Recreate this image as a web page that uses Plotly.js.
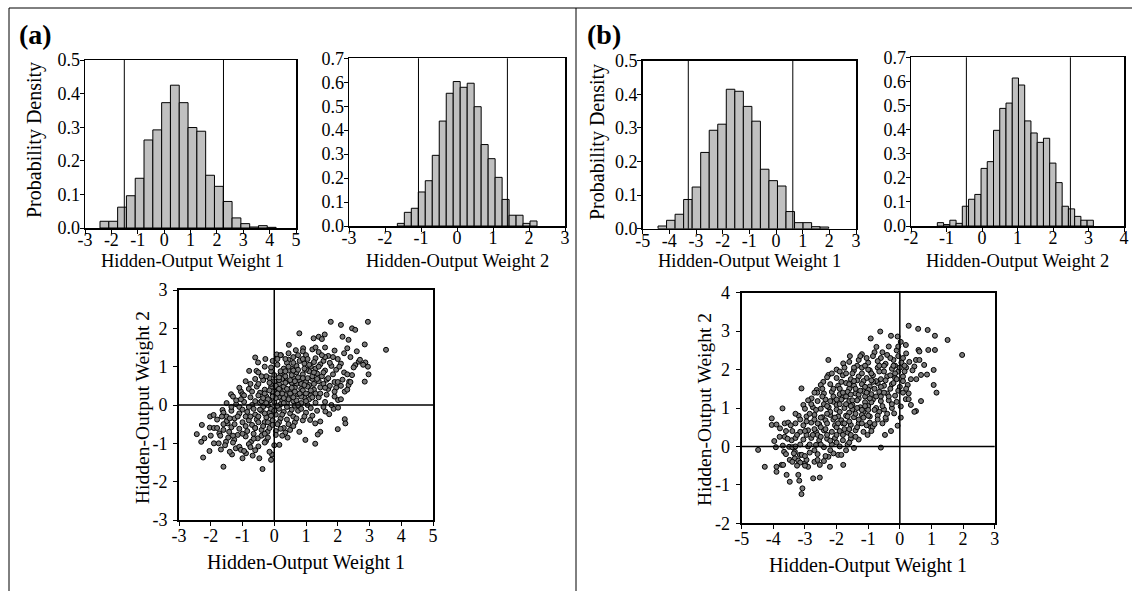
<!DOCTYPE html>
<html>
<head>
<meta charset="utf-8">
<script src="https://cdn.plot.ly/plotly-3.0.1.min.js"></script>
<style>html,body{margin:0;padding:0;background:#fff;}#chart{width:1132px;height:591px;}</style>
</head>
<body>
<div id="chart"></div>
<script>
// ---------------- DATA ----------------
// Panel (a) histograms
const histA1Centers = [-2.264,-1.930,-1.596,-1.263,-0.929,-0.595,-0.261,0.073,0.406,0.740,1.074,1.408,1.742,2.075,2.409,2.743,3.077,3.410,3.744,4.078];
const histA1Density = [0.020,0.020,0.062,0.096,0.148,0.262,0.292,0.373,0.425,0.373,0.299,0.288,0.157,0.124,0.079,0.030,0.013,0.003,0.007,0.002];
const histA1Width = 0.334;
const histA1Limits = [-1.51, 2.25];

const histA2Centers = [-1.560,-1.366,-1.172,-0.978,-0.784,-0.590,-0.396,-0.202,-0.008,0.186,0.380,0.574,0.768,0.962,1.156,1.350,1.544,1.738,1.932,2.126];
const histA2Density = [0.011,0.057,0.074,0.142,0.189,0.295,0.438,0.554,0.603,0.579,0.596,0.498,0.340,0.281,0.203,0.111,0.045,0.045,0.011,0.021];
const histA2Width = 0.194;
const histA2Limits = [-1.07, 1.40];

// Panel (b) histograms
const histB1Centers = [-4.265,-3.945,-3.625,-3.305,-2.985,-2.665,-2.345,-2.025,-1.705,-1.385,-1.065,-0.745,-0.425,-0.105,0.215,0.535,0.855,1.175,1.495,1.815];
const histB1Density = [0.008,0.025,0.043,0.087,0.124,0.227,0.293,0.311,0.415,0.409,0.364,0.320,0.177,0.143,0.127,0.051,0.018,0.018,0.006,0.005];
const histB1Width = 0.32;
const histB1Limits = [-3.29, 0.63];

const histB2Centers = [-1.170,-0.994,-0.818,-0.643,-0.467,-0.291,-0.115,0.061,0.236,0.412,0.588,0.764,0.940,1.115,1.291,1.467,1.643,1.819,1.994,2.170,2.346,2.522,2.698,2.873,3.049];
const histB2Density = [0.014,0.006,0.024,0.011,0.082,0.111,0.131,0.239,0.267,0.397,0.488,0.510,0.614,0.585,0.436,0.386,0.347,0.364,0.261,0.180,0.082,0.071,0.040,0.024,0.024];
const histB2Width = 0.1758;
const histB2Limits = [-0.44, 2.49];

// Scatter (a): [weight1, weight2]
const scatterA = [
[0.79,1.87],[0.46,1.57],[0.68,1.43],[0.91,1.48],[-0.60,1.24],[-0.51,1.11],[-0.28,1.20],[-0.79,0.89],[-0.56,0.89],[0.08,1.32],[0.21,1.30],[-1.36,0.28],[-1.05,0.35],[-1.63,-0.13],[-2.02,-0.30],[-1.91,-0.26],[-2.28,-0.52],[-2.03,-0.59],[-2.44,-0.76],[-2.30,-0.96],[-2.20,-0.87],[-2.24,-1.37],[-2.04,-1.20],[-1.68,-1.16],[-1.60,-1.61],[-1.33,-1.29],[-1.21,-1.13],[-1.10,-1.09],[-1.05,-1.17],[-1.00,-1.39],[-0.89,-1.26],[-0.68,-1.32],[-0.47,-1.39],[-0.37,-1.67],[-0.10,-1.43],[-0.07,-1.29],[0.16,-1.04],[0.42,-0.85],[0.79,-0.70],[-1.47,-0.48],[-1.42,-0.70],[-1.26,-0.91],[-1.73,-0.74],[-1.52,-0.96],[-0.73,-0.96],[-0.52,-0.87],[-0.26,-0.94],[-0.21,-0.70],
[1.78,2.17],[2.10,2.09],[2.95,2.17],[2.45,2.00],[2.55,1.96],[1.59,1.84],[1.24,1.74],[1.40,1.78],[1.50,1.72],[2.15,1.78],[2.34,1.70],[2.85,1.58],[3.52,1.44],[2.87,1.11],[2.95,1.00],[2.97,0.80],[2.85,0.61],[2.66,1.13],[2.55,1.04],[2.36,0.61],[2.34,0.52],[2.22,0.35],[2.01,0.13],[1.87,-0.10],[2.01,-0.07],[2.22,-0.37],[2.24,-0.48],[2.00,-0.63],[1.45,-0.70],[1.37,-0.77],[1.29,-1.01],[1.73,-0.24],[1.61,-0.17],[1.45,-0.43],[1.29,-0.48],[1.13,-0.39],[0.98,-0.91],
[1.2,1.45],[1.6,1.5],[1.9,1.42],[2.3,1.48],[2.6,1.4],[0.9,1.4],[1.4,1.38],
[0.6,1.25],[1.0,1.3],[1.3,1.22],[1.7,1.28],[2.0,1.2],[2.4,1.25],[2.7,1.18],[0.2,1.3],[0.45,1.18],[1.55,1.15],
[0.1,1.05],[0.4,1.1],[0.7,1.02],[0.95,1.08],[1.15,1.0],[1.45,1.06],[1.8,1.02],[2.1,1.08],[2.5,0.98],[2.8,1.05],[-0.3,1.0],[0.55,0.95],[1.3,0.95],[1.95,0.92],
[-0.5,0.85],[-0.1,0.88],[0.2,0.82],[0.45,0.9],[0.7,0.85],[0.9,0.8],[1.1,0.88],[1.35,0.82],[1.6,0.9],[1.85,0.8],[2.2,0.85],[2.45,0.78],[0.0,0.78],[1.0,0.92],[1.5,0.75],
[-0.9,0.62],[-0.6,0.68],[-0.35,0.65],[-0.15,0.7],[0.05,0.6],[0.25,0.68],[0.4,0.62],[0.6,0.7],[0.8,0.64],[1.0,0.6],[1.2,0.68],[1.4,0.62],[1.65,0.66],[1.9,0.6],[2.15,0.66],[2.4,0.6],[0.15,0.55],[0.7,0.55],[1.1,0.52],
[-1.1,0.45],[-0.8,0.42],[-0.55,0.48],[-0.3,0.4],[-0.1,0.46],[0.1,0.42],[0.3,0.48],[0.5,0.4],[0.65,0.45],[0.85,0.42],[1.05,0.48],[1.25,0.4],[1.45,0.46],[1.7,0.42],[1.95,0.45],[2.3,0.4],[0.0,0.35],[0.4,0.32],[0.9,0.33],[-0.45,0.32],
[-1.3,0.22],[-1.0,0.28],[-0.75,0.2],[-0.5,0.25],[-0.25,0.22],[-0.05,0.28],[0.15,0.2],[0.35,0.26],[0.55,0.22],[0.75,0.28],[0.95,0.2],[1.15,0.25],[1.4,0.2],[1.65,0.27],[1.9,0.22],[2.1,0.15],[0.25,0.12],[0.6,0.1],[-0.15,0.12],
[-1.5,0.05],[-1.2,0.02],[-0.95,0.08],[-0.7,0.0],[-0.45,0.06],[-0.2,0.0],[0.0,0.08],[0.2,0.02],[0.4,0.05],[0.65,-0.02],[0.85,0.05],[1.05,0.0],[1.3,0.06],[1.55,-0.05],[1.8,0.0],[0.1,-0.08],[-0.35,-0.05],
[-1.6,-0.2],[-1.35,-0.15],[-1.1,-0.22],[-0.85,-0.18],[-0.6,-0.25],[-0.4,-0.15],[-0.15,-0.2],[0.05,-0.25],[0.3,-0.18],[0.5,-0.22],[0.75,-0.15],[1.0,-0.2],[1.2,-0.28],[-0.25,-0.32],[0.2,-0.35],
[-1.8,-0.38],[-1.5,-0.42],[-1.25,-0.35],[-1.0,-0.45],[-0.8,-0.4],[-0.55,-0.38],[-0.3,-0.45],[-0.05,-0.4],[0.15,-0.45],[0.4,-0.38],[0.65,-0.45],[0.9,-0.4],[-0.7,-0.52],
[-1.9,-0.6],[-1.6,-0.65],[-1.35,-0.58],[-1.1,-0.62],[-0.85,-0.68],[-0.6,-0.6],[-0.4,-0.65],[-0.15,-0.6],[0.05,-0.68],[0.3,-0.6],[0.5,-0.65],
[-1.7,-0.8],[-1.45,-0.85],[-1.15,-0.78],[-0.9,-0.82],[-0.65,-0.88],[-0.4,-0.8],[-0.2,-0.85],[0.05,-0.78],
[-1.9,-1.0],[-1.55,-1.05],[-1.3,-0.98],[-0.8,-1.02],[-0.5,-1.08],[-0.3,-0.98],[0.0,-1.05],
[-1.4,-1.22],[-0.95,-1.2],[-0.6,-1.18],[-0.15,-1.22],
[-0.4,0.1],[-0.2,0.15],[0.05,0.18],[0.3,0.05],[0.5,0.3],[0.7,0.12],[0.9,0.38],[1.1,0.15],[1.25,0.55],[0.55,0.58],[0.35,0.75],[0.15,0.65],[-0.1,0.55],[-0.3,0.3],[-0.6,0.1],[-0.8,-0.05],[-0.5,-0.3],[-0.1,-0.1],[0.15,-0.1],[0.4,-0.05],[0.6,-0.3],[0.85,-0.1],[1.0,0.3],[1.2,0.75],[1.4,1.0],[0.8,1.15],[1.05,1.2],[0.3,0.95],[0.6,1.1],[-0.05,0.35],[0.2,0.38],[0.75,0.72],[1.55,0.55],[1.75,1.1],[1.3,0.3],[-0.9,-0.3],[-1.1,-0.05],[-0.35,-0.55],[-0.65,-0.75],[0.1,-0.5],[0.35,-0.72],[-1.25,-0.5],[-1.5,-0.3],[-0.05,1.15],[2.0,0.6],[2.2,1.35],[1.6,1.25],[0.45,1.35],
[0.05,0.5],[0.25,0.3],[0.45,0.15],[0.65,0.35],[0.85,0.55],[1.05,0.7],[1.25,0.85],[0.95,0.95],[0.75,0.92],[0.55,0.78],[0.35,0.58],[0.15,0.42],[-0.05,0.22],[-0.25,0.05],[-0.45,-0.12],[-0.65,-0.1],[-0.35,0.18],[-0.15,0.38],[0.0,0.62],[0.2,0.88],[0.45,1.0],[0.65,0.62],[0.85,0.22],[1.15,0.38],[1.35,0.68],[1.55,0.85],[1.7,0.7],[1.85,1.25],[1.25,1.12],[0.95,0.52],[0.55,0.45],[0.3,0.18],[0.1,-0.02],[-0.1,-0.28],[-0.3,-0.22],[0.25,-0.25],[0.55,-0.12],[0.75,0.0],[1.0,0.1],[1.15,-0.08],[1.45,0.3],[1.6,0.08],[1.35,-0.15],[0.7,-0.35],[0.45,-0.5],[0.2,-0.62],[-0.05,-0.52],[-0.5,-0.45],[-0.75,-0.3],[-1.0,-0.12],[-1.2,0.12],[-0.95,0.25],[-0.7,0.35],[-0.5,0.55],[-0.25,0.75],[-0.1,0.98],[0.1,1.2],[0.35,1.2],[0.6,0.9],[0.4,0.42],[0.9,0.7],[1.1,1.05],[1.5,1.3],[2.05,1.0],[2.3,0.8],[1.9,0.35],[1.75,0.5],[2.1,0.5],[-0.6,-0.6],[-0.9,-0.55],[-1.15,-0.3],[-1.35,-0.05],[-1.6,-0.5],[-1.8,-0.6],[-0.3,-0.75],[0.25,-0.8],[0.6,-0.55],[-1.0,-0.75],[-1.3,-0.8],[-0.75,-1.1],[0.35,0.88],[0.8,0.3],[1.2,0.2],[0.6,0.2],[-0.15,0.58],[0.1,0.3],[-0.2,-0.45],[0.0,-0.15],[0.5,0.65],[0.95,-0.3],[1.6,0.45],[0.15,0.72],[0.9,1.2],[1.3,1.5],[0.75,1.3],[-0.4,0.75],[-0.75,0.55],[-1.05,0.15],[-1.4,-0.35],[-1.65,-0.3],[-2.0,-0.8],[-1.75,-1.0]
];

// Scatter (b): [weight1, weight2]
const scatterB = [
[-4.48,-0.09],[-4.27,-0.53],[-3.90,-0.53],[-3.90,-0.66],[-3.74,-0.48],[-3.69,-0.48],[-3.58,-0.74],[-3.48,-0.92],[-3.21,-0.74],[-3.18,-0.89],[-3.08,-1.09],[-3.11,-1.24],[-2.74,-0.83],[-2.53,-0.81],[-3.71,0.99],[-4.05,0.73],[-4.05,0.56],[-3.90,0.57],[-3.79,0.47],[-3.64,0.60],[-3.53,0.62],[-3.97,0.14],[-3.92,-0.02],[-3.11,1.51],[-3.64,0.25],[-3.42,0.16],[-3.50,-0.01],[-3.32,-0.14],[-3.66,-0.14],[-3.48,-0.35],[-3.32,-0.31],[-3.21,-0.37],[-3.00,-0.44],[-2.90,-0.53],[-3.16,-0.22],[-2.53,-0.48],[-2.26,-0.27],[-2.21,-0.53],[-1.79,-0.48],[-1.95,-0.22],[-2.26,2.25],[-2.42,1.68],[-2.63,1.47],[-2.61,1.40],[-2.79,1.25],[-3.05,1.08],[-1.58,2.35],[-1.79,2.16],[-2.26,1.86],
[0.28,3.14],[0.58,3.06],[0.88,3.03],[1.11,2.88],[1.51,2.77],[1.97,2.38],[0.90,2.51],[1.11,2.51],[0.59,2.51],[0.62,2.47],[-0.62,2.99],[-0.28,2.88],[-0.07,2.86],[-0.92,2.81],[0.03,2.72],[0.19,2.64],[-0.74,2.59],[0.51,2.25],[0.62,2.25],[0.46,2.08],[0.77,2.12],[1.07,1.99],[0.67,1.86],[0.86,1.87],[0.52,1.75],[1.07,1.60],[1.16,1.40],[0.28,1.38],[0.19,1.23],[0.28,1.23],[0.67,1.18],[0.35,1.08],[0.51,0.92],[0.46,0.90],[0.03,1.04],[0.03,0.75],[-0.07,0.54],[-0.28,0.40],[-0.47,0.30],[-0.60,-0.03],[-0.44,0.70],[-0.18,0.86],[-0.65,0.90],[-0.92,0.51],[-0.86,0.51],[-1.02,0.30],
[-1.2,2.4],[-0.8,2.45],[-0.4,2.38],[-0.1,2.5],[0.2,2.42],[-0.6,2.3],
[-1.6,2.2],[-1.3,2.25],[-1.0,2.18],[-0.7,2.22],[-0.45,2.15],[-0.2,2.25],[0.05,2.18],[0.3,2.2],[-0.05,2.35],
[-2.0,2.0],[-1.75,2.05],[-1.45,1.98],[-1.2,2.05],[-0.95,1.98],[-0.7,2.05],[-0.5,1.95],[-0.25,2.02],[-0.05,1.95],[0.2,2.05],[0.4,1.98],[-0.15,2.1],
[-2.3,1.8],[-2.0,1.78],[-1.8,1.85],[-1.55,1.75],[-1.3,1.82],[-1.05,1.78],[-0.85,1.85],[-0.6,1.75],[-0.4,1.82],[-0.15,1.78],[0.1,1.82],[0.35,1.75],[-1.15,1.7],
[-2.5,1.6],[-2.2,1.62],[-1.95,1.58],[-1.7,1.65],[-1.45,1.58],[-1.2,1.62],[-0.95,1.56],[-0.7,1.65],[-0.5,1.58],[-0.25,1.62],[0.0,1.55],[0.25,1.6],[-1.6,1.5],[-1.0,1.48],
[-2.7,1.4],[-2.4,1.38],[-2.15,1.42],[-1.9,1.36],[-1.65,1.42],[-1.4,1.38],[-1.15,1.44],[-0.9,1.36],[-0.65,1.42],[-0.4,1.38],[-0.15,1.32],[0.1,1.4],[-1.8,1.28],[-1.3,1.25],
[-2.9,1.2],[-2.6,1.18],[-2.35,1.22],[-2.1,1.16],[-1.85,1.22],[-1.6,1.18],[-1.35,1.2],[-1.1,1.15],[-0.85,1.22],[-0.6,1.18],[-0.35,1.2],[-0.1,1.16],[-2.0,1.08],[-1.5,1.08],[-1.0,1.05],
[-3.0,0.98],[-2.75,1.02],[-2.5,0.98],[-2.25,1.02],[-2.0,0.96],[-1.75,1.0],[-1.5,0.96],[-1.25,1.02],[-1.0,0.95],[-0.75,1.0],[-0.5,0.96],[-0.25,1.0],[-1.6,0.88],[-1.15,0.9],
[-3.2,0.8],[-2.95,0.78],[-2.7,0.82],[-2.45,0.76],[-2.2,0.82],[-1.95,0.78],[-1.7,0.8],[-1.45,0.76],[-1.2,0.82],[-0.95,0.78],[-0.7,0.8],[-0.45,0.75],[-2.35,0.68],[-1.85,0.68],
[-3.3,0.6],[-3.05,0.55],[-2.8,0.62],[-2.55,0.58],[-2.3,0.6],[-2.05,0.55],[-1.8,0.6],[-1.55,0.56],[-1.3,0.6],[-1.05,0.55],[-0.8,0.58],[-0.55,0.6],
[-3.4,0.4],[-3.15,0.38],[-2.9,0.42],[-2.65,0.38],[-2.4,0.42],[-2.15,0.38],[-1.9,0.4],[-1.65,0.36],[-1.4,0.42],[-1.15,0.38],[-0.9,0.4],
[-3.55,0.2],[-3.3,0.22],[-3.05,0.18],[-2.8,0.22],[-2.55,0.16],[-2.3,0.2],[-2.05,0.22],[-1.8,0.16],[-1.55,0.2],[-1.3,0.18],
[-3.7,0.02],[-3.4,-0.02],[-3.15,0.05],[-2.9,0.0],[-2.65,0.04],[-2.4,-0.02],[-2.15,0.05],[-1.9,0.0],[-1.65,0.05],[-1.45,-0.04],
[-3.6,-0.2],[-3.35,-0.18],[-3.1,-0.22],[-2.85,-0.16],[-2.6,-0.2],[-2.35,-0.25],[-2.1,-0.18],[-1.85,-0.22],
[-3.4,-0.4],[-3.15,-0.42],[-2.95,-0.35],[-2.7,-0.4],[-2.4,-0.38],[-3.0,-0.5],
[-1.9,1.1],[-1.7,1.3],[-1.4,1.5],[-1.1,1.3],[-0.8,1.5],[-1.3,0.7],[-1.6,0.65],[-2.0,0.5],[-2.2,0.9],[-2.5,0.5],[-1.0,0.8],[-0.6,1.3],[-0.3,1.5],[-0.9,1.9],[-1.5,1.9],[-1.9,1.5],[-2.1,1.3],[-2.4,1.1],[-2.7,0.7],[-2.95,0.3],[-2.6,0.3],[-1.2,1.9],[-0.5,2.1],[-0.3,1.85],[-1.75,0.45],[-1.35,1.0],[-0.75,1.7],[-1.55,1.35],[-2.3,0.3],[-2.85,0.05],[-0.2,2.1],[0.15,1.95],[0.1,2.3],[-0.35,2.6],[-0.05,2.6],[-1.05,2.3],
[-1.5,1.2],[-1.3,1.35],[-1.1,1.05],[-0.9,1.15],[-1.7,1.1],[-1.9,0.9],[-2.1,0.7],[-2.3,0.85],[-1.4,0.85],[-1.2,0.6],[-1.6,0.45],[-1.8,0.3],[-2.0,0.3],[-2.2,0.15],[-2.5,0.25],[-2.7,0.45],[-2.5,0.75],[-2.65,0.95],[-2.3,1.05],[-2.1,1.5],[-1.85,1.68],[-1.6,1.62],[-1.35,1.72],[-1.1,1.55],[-0.85,1.68],[-0.6,1.55],[-0.45,1.72],[-0.2,1.65],[-0.35,1.3],[-0.55,1.05],[-0.75,1.3],[-0.95,1.25],[-1.25,1.45],[-1.45,1.7],[-1.7,1.9],[-1.35,2.1],[-1.1,2.1],[-0.85,2.35],[-0.55,2.45],[-0.3,2.3],[-0.15,1.9],[0.0,2.05],[0.1,1.7],[-0.05,1.45],[-0.25,1.1],[-0.4,0.85],[-0.7,0.7],[-0.95,0.62],[-1.15,0.75],[-1.35,0.5],[-1.55,0.3],[-1.75,0.6],[-2.05,0.75],[-2.2,1.18],[-2.45,1.3],[-2.8,1.1],[-2.95,0.65],[-3.15,0.7],[-3.0,0.4],[-3.25,0.3],[-2.75,0.3],[-2.5,0.05],[-2.2,-0.1],[-2.0,0.1],[-1.7,-0.1],[-2.7,-0.1],[-3.0,-0.25],[-3.3,0.0],[-1.9,1.95],[-2.15,1.9],[-1.25,2.35],[-0.65,1.95],[-0.9,1.72],[-1.55,1.05],[-1.8,1.4],[-2.0,1.22],[-1.2,0.95],[-0.8,0.95],[-1.05,1.4],[-1.65,0.78],[-1.95,0.6],[-2.35,0.45],[-2.6,0.6],[-2.85,0.85],[-0.5,1.4],[-0.1,1.75],[0.2,1.5],[0.15,2.1],[-0.65,2.1],[-1.0,2.0],[-1.45,2.05],[-2.45,1.5],[-3.3,0.85],[-3.45,0.55],[-3.6,0.4],[-3.25,-0.5],[-2.6,-0.35],[-3.8,0.25],[-1.6,0.1],[-1.4,0.25]
];

// Tick values
const ticksA1x = [-3,-2,-1,0,1,2,3,4,5];
const ticksA2x = [-3,-2,-1,0,1,2,3];
const ticksB1x = [-5,-4,-3,-2,-1,0,1,2,3];
const ticksB2x = [-2,-1,0,1,2,3,4];
const ticksDens5 = [0,0.1,0.2,0.3,0.4,0.5];
const ticksDens7 = [0,0.1,0.2,0.3,0.4,0.5,0.6,0.7];
const ticksScAx = [-3,-2,-1,0,1,2,3,4,5];
const ticksScAy = [-3,-2,-1,0,1,2,3];
const ticksScBx = [-5,-4,-3,-2,-1,0,1,2,3];
const ticksScBy = [-2,-1,0,1,2,3,4];

const labelW1 = 'Hidden-Output Weight 1';
const labelW2 = 'Hidden-Output Weight 2';
const labelDens = 'Probability Density';

// ---------------- LAYOUT ----------------
const W = 1132, H = 591;
const FONT = 'Liberation Serif';
const px = v => v / W;
const py = v => 1 - v / H;

function axis(ticks, dec, domain, anchor, opts) {
  const o = {
    domain: domain, anchor: anchor,
    range: [ticks[0], ticks[ticks.length - 1]],
    tickmode: 'array', tickvals: ticks,
    ticktext: ticks.map(v => dec ? v.toFixed(dec) : String(v)),
    ticks: 'outside', ticklen: 4, tickwidth: 1, tickcolor: '#000',
    showline: true, linecolor: '#000', linewidth: 1.5, mirror: true,
    showgrid: false, zeroline: false, fixedrange: true,
    tickfont: {family: FONT, size: 18, color: '#000'}
  };
  return Object.assign(o, opts || {});
}

const histMarker = {color: '#c0c0c0', line: {color: '#000', width: 1}};
const dotMarker = {size: 5, color: '#7a7a7a', line: {color: '#000', width: 1}};
const data = [
  {type: 'bar', x: histA1Centers, y: histA1Density, width: histA1Width, marker: histMarker, xaxis: 'x', yaxis: 'y', hoverinfo: 'skip'},
  {type: 'bar', x: histA2Centers, y: histA2Density, width: histA2Width, marker: histMarker, xaxis: 'x2', yaxis: 'y2', hoverinfo: 'skip'},
  {type: 'bar', x: histB1Centers, y: histB1Density, width: histB1Width, marker: histMarker, xaxis: 'x3', yaxis: 'y3', hoverinfo: 'skip'},
  {type: 'bar', x: histB2Centers, y: histB2Density, width: histB2Width, marker: histMarker, xaxis: 'x4', yaxis: 'y4', hoverinfo: 'skip'},
  {type: 'scatter', mode: 'markers', x: scatterA.map(p => p[0]), y: scatterA.map(p => p[1]), xaxis: 'x5', yaxis: 'y5', marker: dotMarker, hoverinfo: 'skip'},
  {type: 'scatter', mode: 'markers', x: scatterB.map(p => p[0]), y: scatterB.map(p => p[1]), xaxis: 'x6', yaxis: 'y6', marker: dotMarker, hoverinfo: 'skip'}
];

const xHist = {ticklabelstandoff: -9};
const yHist = {ticklabelstandoff: -4};
const xSc = {linewidth: 2, ticklabelstandoff: -6};
const ySc = {linewidth: 2, ticklabelstandoff: 2};
const layout = {
  width: W, height: H, showlegend: false, bargap: 0,
  margin: {l: 0, r: 0, t: 0, b: 0, autoexpand: false},
  paper_bgcolor: '#fff', plot_bgcolor: '#fff',
  font: {family: FONT, color: '#000', size: 18},
  xaxis:  axis(ticksA1x, 0, [px(85), px(296)], 'y', xHist),
  yaxis:  axis(ticksDens5, 1, [py(228), py(60)], 'x', yHist),
  xaxis2: axis(ticksA2x, 0, [px(349), px(565)], 'y2', xHist),
  yaxis2: axis(ticksDens7, 1, [py(226), py(58.3)], 'x2', yHist),
  xaxis3: axis(ticksB1x, 0, [px(642.7), px(856)], 'y3', xHist),
  yaxis3: axis(ticksDens5, 1, [py(228.7), py(60.7)], 'x3', yHist),
  xaxis4: axis(ticksB2x, 0, [px(911), px(1124)], 'y4', xHist),
  yaxis4: axis(ticksDens7, 1, [py(226), py(57.3)], 'x4', yHist),
  xaxis5: axis(ticksScAx, 0, [px(179), px(433)], 'y5', xSc),
  yaxis5: axis(ticksScAy, 0, [py(520), py(290)], 'x5', ySc),
  xaxis6: axis(ticksScBx, 0, [px(741.7), px(994.7)], 'y6', xSc),
  yaxis6: axis(ticksScBy, 0, [py(523.3), py(292.7)], 'x6', ySc),
  shapes: [],
  annotations: []
};

// interval lines in histograms
[[histA1Limits, 'x', 'y'], [histA2Limits, 'x2', 'y2'], [histB1Limits, 'x3', 'y3'], [histB2Limits, 'x4', 'y4']].forEach(([lims, xr, yr]) => {
  lims.forEach(v => layout.shapes.push({type: 'line', xref: xr, yref: yr + ' domain', x0: v, x1: v, y0: 0, y1: 1, line: {color: '#000', width: 1}}));
});
// zero cross-hair lines in scatters
[['x5', 'y5'], ['x6', 'y6']].forEach(([xr, yr]) => {
  layout.shapes.push({type: 'line', xref: xr, yref: yr + ' domain', x0: 0, x1: 0, y0: 0, y1: 1, line: {color: '#000', width: 1.5}});
  layout.shapes.push({type: 'line', xref: xr + ' domain', yref: yr, x0: 0, x1: 1, y0: 0, y1: 0, line: {color: '#000', width: 1.5}});
});
// figure frame
layout.shapes.push({type: 'line', xref: 'paper', yref: 'paper', x0: px(9), x1: 1, y0: py(8), y1: py(8), line: {color: '#000', width: 1}});
layout.shapes.push({type: 'line', xref: 'paper', yref: 'paper', x0: px(9), x1: px(9), y0: py(8), y1: 0, line: {color: '#000', width: 1}});
layout.shapes.push({type: 'line', xref: 'paper', yref: 'paper', x0: px(576), x1: px(576), y0: py(8), y1: 0, line: {color: '#000', width: 1}});

function ann(text, x, y, size, angle, bold) {
  layout.annotations.push({text: bold ? '<b>' + text + '</b>' : text, xref: 'paper', yref: 'paper', x: px(x), y: py(y),
    xanchor: 'center', yanchor: 'middle', showarrow: false, textangle: angle || 0,
    font: {family: FONT, size: size, color: '#000'}});
}
ann('(a)', 35, 35, 28, 0, true);
ann('(b)', 604, 35, 28, 0, true);
ann(labelDens, 35, 140, 20, -90);
ann(labelDens, 597, 142, 20, -90);
ann(labelW1, 192, 261, 18.5);
ann(labelW2, 457, 261, 18.5);
ann(labelW1, 749, 261, 18.5);
ann(labelW2, 1017, 261, 18.5);
ann(labelW2, 142, 408, 19.5, -90);
ann(labelW1, 306, 562, 20);
ann(labelW2, 704, 410, 19.5, -90);
ann(labelW1, 868, 565, 20);

Plotly.newPlot('chart', data, layout, {staticPlot: true, displayModeBar: false});
</script>
</body>
</html>
